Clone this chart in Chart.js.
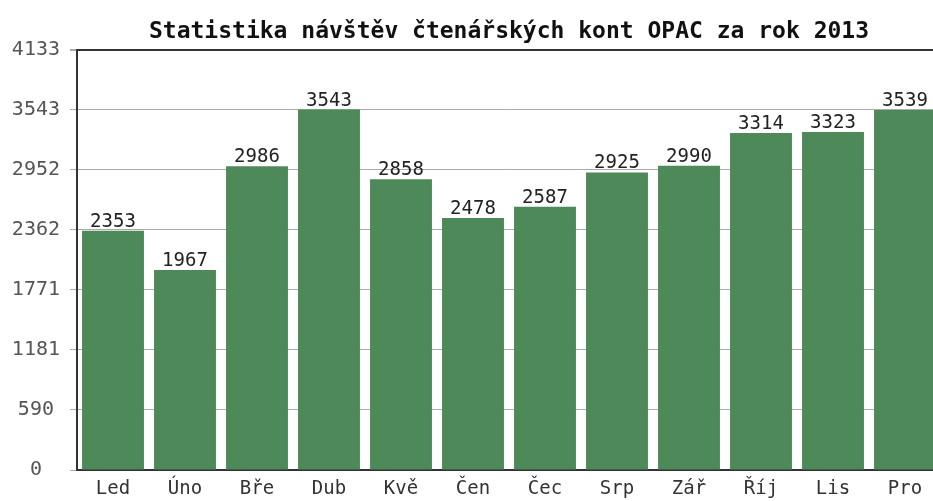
<!DOCTYPE html>
<html>
<head>
<meta charset="utf-8">
<script src="https://cdn.jsdelivr.net/npm/chart.js@4/dist/chart.umd.min.js"></script>
<style>
html,body{margin:0;padding:0;background:#fff;overflow:hidden;}
canvas{display:block;}
</style>
</head>
<body>
<canvas id="c" width="941" height="501"></canvas>
<script>
const chartTitle = "Statistika návštěv čtenářských kont OPAC za rok 2013";
const months = ["Led","Úno","Bře","Dub","Kvě","Čen","Čec","Srp","Zář","Říj","Lis","Pro"];
const visits = [2353,1967,2986,3543,2858,2478,2587,2925,2990,3314,3323,3539];
const yTicks = [0,590,1181,1771,2362,2952,3543,4133];
const yMax = 4133;

const MONO = '"DejaVu Sans Mono", monospace';

const valueLabels = {
  id: 'valueLabels',
  afterDatasetsDraw(chart) {
    const ctx = chart.ctx;
    const meta = chart.getDatasetMeta(0);
    ctx.save();
    ctx.font = '19px ' + MONO;
    ctx.fillStyle = '#222';
    ctx.textAlign = 'center';
    ctx.textBaseline = 'alphabetic';
    meta.data.forEach((bar, i) => {
      ctx.fillText(String(visits[i]), bar.x, bar.y - 4);
    });
    ctx.restore();
  }
};

new Chart(document.getElementById('c'), {
  type: 'bar',
  data: {
    labels: months,
    datasets: [{
      data: visits,
      backgroundColor: 'rgb(78,137,89)',
      borderWidth: 0,
      barPercentage: 0.86,
      categoryPercentage: 1.0
    }]
  },
  options: {
    responsive: false,
    animation: false,
    events: [],
    plugins: {
      legend: { display: false },
      tooltip: { enabled: false },
      title: {
        display: true,
        text: chartTitle,
        fullSize: false,
        color: '#111',
        font: { family: MONO, size: 23, weight: 'bold' },
        padding: { top: 18, bottom: 4 }
      }
    },
    layout: { padding: 0 },
    scales: {
      x: {
        afterFit(s) { s.height = 31; },
        grid: { display: false, drawTicks: false },
        border: { display: true, color: '#333', width: 2 },
        ticks: {
          color: '#333',
          font: { family: MONO, size: 19 },
          padding: 8,
          maxRotation: 0,
          autoSkip: false
        }
      },
      y: {
        min: 0,
        max: yMax,
        afterFit(s) { s.width = 77; },
        afterBuildTicks(s) { s.ticks = yTicks.map(v => ({ value: v })); },
        grid: {
          color: c => (c.tick && c.tick.value === yMax) ? '#333' : '#aaa',
          lineWidth: c => (c.tick && c.tick.value === yMax) ? 2 : 1,
          tickLength: 7,
          tickColor: '#aaa'
        },
        border: { display: true, color: '#333', width: 2 },
        ticks: {
          color: '#555',
          font: { family: MONO, size: 20 },
          crossAlign: 'center',
          padding: 10,
          callback: v => String(v)
        }
      }
    }
  },
  plugins: [valueLabels]
});
</script>
</body>
</html>
